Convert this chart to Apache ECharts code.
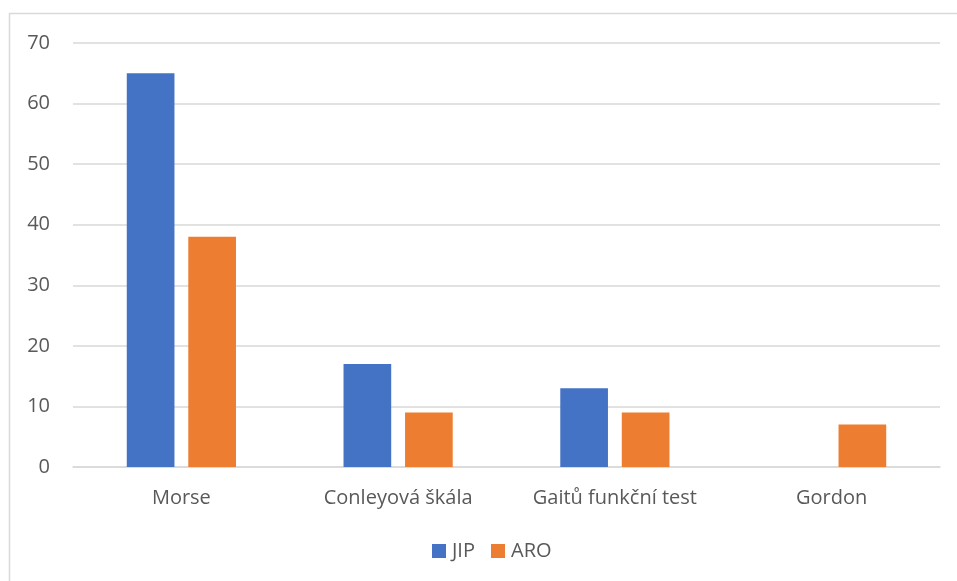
<!DOCTYPE html>
<html>
<head>
<meta charset="utf-8">
<script src="https://cdn.jsdelivr.net/npm/echarts@6/dist/echarts.min.js"></script>
<style>
  html, body { margin: 0; padding: 0; background: #ffffff; }
  #chart { width: 957px; height: 581px; }
</style>
</head>
<body>
<div id="chart"></div>
<script>
// Assessment scales used per ward
const categories = ['Morse', 'Conleyová škála', 'Gaitů funkční test', 'Gordon'];
const jipValues = [65, 17, 13, 0];
const aroValues = [38, 9, 9, 7];
const seriesNames = ['JIP', 'ARO'];

const chart = echarts.init(document.getElementById('chart'), null, { renderer: 'canvas' });
const textColor = '#595959';
const font = 'Open Sans, Liberation Sans, sans-serif';

chart.setOption({
  animation: false,
  backgroundColor: '#ffffff',
  graphic: [{
    type: 'rect',
    shape: { x: 9.5, y: 13.5, width: 960, height: 600 },
    style: { fill: 'none', stroke: '#d9d9d9', lineWidth: 1.5 },
    silent: true
  }],
  grid: { left: 73, right: 17, top: 43, bottom: 114, containLabel: false },
  legend: {
    data: seriesNames,
    bottom: 15,
    left: 427,
    itemWidth: 14,
    itemHeight: 14,
    itemGap: 16,
    icon: 'rect',
    textStyle: { color: textColor, fontSize: 20, fontFamily: font, padding: [0, 0, 0, 1] }
  },
  xAxis: {
    type: 'category',
    data: categories,
    axisLine: { lineStyle: { color: '#d9d9d9', width: 1.5 } },
    axisTick: { show: false },
    axisLabel: { color: textColor, fontSize: 20, fontFamily: font, margin: 21 }
  },
  yAxis: {
    type: 'value',
    min: 0,
    max: 70,
    interval: 10,
    axisLine: { show: false },
    axisTick: { show: false },
    splitLine: { lineStyle: { color: '#d9d9d9', width: 1.5 } },
    axisLabel: { color: textColor, fontSize: 20, fontFamily: font, margin: 23 }
  },
  series: [
    {
      name: seriesNames[0],
      type: 'bar',
      data: jipValues,
      barWidth: '22%',
      barGap: '29%',
      itemStyle: { color: '#4472c4' }
    },
    {
      name: seriesNames[1],
      type: 'bar',
      data: aroValues,
      barWidth: '22%',
      barGap: '29%',
      itemStyle: { color: '#ed7d31' }
    }
  ]
});
</script>
</body>
</html>
